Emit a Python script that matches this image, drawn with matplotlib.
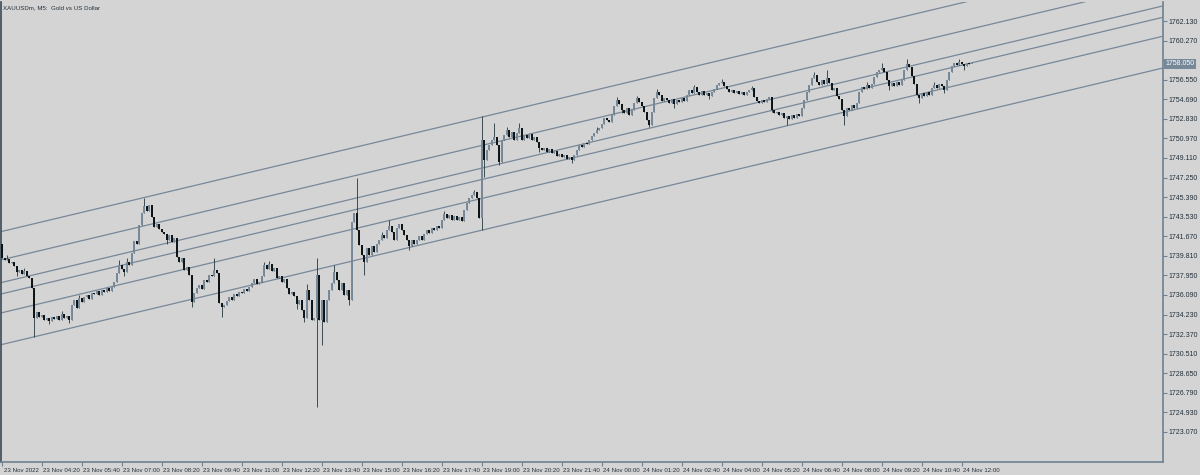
#!/usr/bin/env python3
# -*- coding: utf-8 -*-
# XAUUSDm M5 candles with a parallel channel, MT5 look

import matplotlib
matplotlib.use('Agg')
from matplotlib import pyplot as plt
from matplotlib import transforms

plt.rcParams['font.family'] = ['Liberation Sans', 'DejaVu Sans']

title = 'XAUUSDm, M5:  Gold vs US Dollar'

first_open = 1740.90

# close of every M5 bar
close = [
    1739.60, 1739.41, 1739.51, 1739.13, 1739.22, 1738.84, 1738.27, 1738.46, 1738.08, 1738.37,
    1737.89, 1737.70, 1736.75, 1733.90, 1734.47, 1733.99, 1734.18, 1733.71, 1733.90, 1733.61,
    1733.99, 1733.80, 1734.09, 1733.71, 1734.28, 1733.90, 1734.09, 1733.71, 1735.14, 1735.61,
    1734.85, 1735.80, 1735.42, 1735.90, 1736.09, 1735.71, 1736.28, 1736.18, 1736.47, 1736.09,
    1736.56, 1736.37, 1736.75, 1736.47, 1736.85, 1737.32, 1738.18, 1738.94, 1738.56, 1738.27,
    1739.22, 1738.94, 1740.08, 1741.22, 1740.94, 1742.74, 1743.88, 1744.55, 1744.07, 1744.64,
    1743.50, 1742.55, 1742.84, 1742.36, 1742.08, 1741.89, 1741.32, 1741.79, 1741.13, 1741.51,
    1739.70, 1739.22, 1739.60, 1738.46, 1738.75, 1737.99, 1735.42, 1736.28, 1736.75, 1737.04,
    1736.66, 1737.51, 1737.32, 1737.99, 1737.89, 1738.46, 1738.18, 1735.33, 1734.95, 1735.14,
    1735.52, 1735.90, 1735.61, 1736.18, 1735.99, 1736.37, 1736.28, 1736.66, 1736.47, 1736.85,
    1737.23, 1737.61, 1737.13, 1737.32, 1737.89, 1738.94, 1738.56, 1739.03, 1738.37, 1738.65,
    1737.70, 1737.89, 1737.32, 1737.61, 1736.75, 1736.18, 1736.37, 1735.99, 1735.23, 1735.61,
    1734.66, 1733.90, 1736.56, 1735.61, 1733.71, 1733.90, 1737.99, 1733.71, 1735.61, 1733.52,
    1735.61, 1736.56, 1737.23, 1738.27, 1737.51, 1736.56, 1737.23, 1736.09, 1736.56, 1735.61,
    1743.03, 1743.88, 1742.27, 1740.84, 1739.89, 1739.22, 1740.56, 1739.89, 1740.75, 1740.17,
    1740.94, 1741.32, 1741.79, 1741.51, 1742.27, 1742.65, 1742.08, 1741.32, 1742.46, 1742.84,
    1742.27, 1741.79, 1741.32, 1740.75, 1741.32, 1740.94, 1741.32, 1741.70, 1741.32, 1741.89,
    1742.27, 1741.98, 1742.46, 1742.27, 1742.65, 1742.46, 1743.22, 1743.79, 1743.41, 1743.69,
    1743.22, 1743.60, 1743.22, 1743.50, 1743.12, 1744.17, 1744.83, 1745.31, 1745.59, 1745.88,
    1745.31, 1743.41, 1750.82, 1748.92, 1749.87, 1750.35, 1750.82, 1751.11, 1750.35, 1748.73,
    1750.82, 1751.30, 1751.77, 1751.11, 1751.58, 1750.82, 1751.49, 1751.96, 1750.82, 1751.30,
    1751.01, 1751.39, 1750.82, 1751.11, 1750.63, 1750.06, 1749.87, 1750.06, 1749.68, 1749.97,
    1749.59, 1749.78, 1749.30, 1749.49, 1749.20, 1749.40, 1749.01, 1749.20, 1748.92, 1749.40,
    1749.87, 1750.35, 1750.16, 1750.54, 1750.44, 1750.82, 1751.20, 1751.49, 1751.77, 1751.96,
    1752.34, 1752.91, 1752.72, 1752.53, 1753.20, 1754.05, 1754.62, 1754.24, 1753.67, 1753.39,
    1753.86, 1753.20, 1753.67, 1754.34, 1754.81, 1754.43, 1754.05, 1753.48, 1752.72, 1752.25,
    1753.48, 1754.81, 1755.38, 1755.10, 1754.53, 1754.81, 1754.62, 1754.34, 1754.72, 1754.24,
    1754.62, 1754.43, 1754.81, 1754.53, 1755.10, 1755.57, 1755.29, 1755.86, 1755.38, 1755.10,
    1755.48, 1755.10, 1755.29, 1755.00, 1755.38, 1755.67, 1756.05, 1756.24, 1756.34, 1755.95,
    1755.67, 1755.38, 1755.57, 1755.29, 1755.48, 1755.19, 1755.38, 1755.10, 1755.38, 1755.57,
    1755.76, 1754.91, 1754.53, 1754.34, 1754.62, 1754.43, 1754.72, 1754.91, 1753.67, 1753.39,
    1753.48, 1753.20, 1753.39, 1752.91, 1753.10, 1752.82, 1753.20, 1752.91, 1753.29, 1753.10,
    1753.86, 1754.62, 1755.38, 1756.05, 1756.72, 1757.00, 1756.34, 1756.05, 1756.53, 1756.15,
    1756.72, 1756.24, 1755.57, 1755.76, 1755.00, 1754.72, 1753.67, 1753.10, 1753.86, 1753.67,
    1754.15, 1753.86, 1754.34, 1755.38, 1755.86, 1755.67, 1756.05, 1755.76, 1756.15, 1756.81,
    1757.29, 1757.48, 1757.67, 1757.29, 1756.53, 1755.95, 1756.24, 1755.95, 1756.34, 1756.05,
    1756.53, 1757.48, 1758.05, 1757.76, 1756.91, 1756.15, 1755.10, 1754.81, 1755.29, 1755.00,
    1755.38, 1755.10, 1755.76, 1756.05, 1755.76, 1756.15, 1755.95, 1755.57, 1756.53, 1757.29,
    1757.86, 1758.14, 1757.95, 1758.24, 1758.05, 1757.86, 1758.14, 1758.05, 1758.05,
]

# wicks that stick out clearly (bar index -> price)
wick_high = {
    2: 1739.90, 9: 1738.70, 24: 1734.60, 31: 1736.10, 47: 1739.40, 50: 1739.60,
    57: 1745.30, 85: 1739.60, 105: 1739.20, 107: 1739.30, 122: 1737.10, 126: 1739.60,
    133: 1738.90, 142: 1747.21, 152: 1742.10, 155: 1743.22, 177: 1744.10, 189: 1746.07,
    192: 1753.10, 197: 1752.44, 202: 1752.10, 207: 1752.44, 238: 1752.10, 246: 1754.91,
    254: 1755.00, 262: 1755.70, 277: 1756.05, 288: 1756.62, 300: 1756.00, 325: 1757.29,
    330: 1757.48, 346: 1756.30, 352: 1758.14, 362: 1758.52, 373: 1756.30, 383: 1758.50,
}
wick_low = {
    6: 1737.90, 13: 1732.10, 19: 1733.30, 27: 1733.40, 49: 1737.90, 66: 1740.90,
    76: 1734.90, 88: 1734.00, 118: 1734.80, 121: 1733.50, 126: 1725.44, 128: 1731.33,
    139: 1735.14, 145: 1737.99, 163: 1740.40, 192: 1742.27, 193: 1747.30, 199: 1748.40,
    215: 1749.70, 228: 1748.64, 248: 1753.40, 259: 1752.06, 269: 1753.86, 283: 1754.70,
    308: 1753.48, 314: 1752.25, 337: 1752.25, 355: 1755.60, 367: 1754.34, 377: 1755.30,
    385: 1757.48,
}

# channel lines: price at the left edge of the window
channel_left = [1742.11, 1739.42, 1737.26, 1736.18, 1734.38, 1731.36]
channel_slope = 0.0566  # $ per bar

price_ticks = [1762.130, 1760.270, 1758.410, 1756.550, 1754.690, 1752.830, 1750.970,
               1749.110, 1747.250, 1745.390, 1743.530, 1741.670, 1739.810, 1737.950,
               1736.090, 1734.230, 1732.370, 1730.510, 1728.650, 1726.790, 1724.930,
               1723.070]

time_labels = ['23 Nov 2022', '23 Nov 04:20', '23 Nov 05:40', '23 Nov 07:00', '23 Nov 08:20',
               '23 Nov 09:40', '23 Nov 11:00', '23 Nov 12:20', '23 Nov 13:40', '23 Nov 15:00',
               '23 Nov 16:20', '23 Nov 17:40', '23 Nov 19:00', '23 Nov 20:20', '23 Nov 21:40',
               '24 Nov 00:00', '24 Nov 01:20', '24 Nov 02:40', '24 Nov 04:00', '24 Nov 05:20',
               '24 Nov 06:40', '24 Nov 08:00', '24 Nov 09:20', '24 Nov 10:40', '24 Nov 12:00']
bars_per_label = 16

bg = '#d4d4d4'
bull = '#778899'
bear = '#0b1214'
wick_c = '#22363a'
frame = '#6f8090'
txt = '#23303a'

fig = plt.figure(figsize=(12, 4.75), dpi=100, facecolor=bg)
ax = fig.add_axes([1 / 1200, 13 / 475, 1162 / 1200, 460 / 475])
ax.set_facecolor(bg)

x0, x1 = -0.4, -0.4 + 1162 / 2.5
ax.set_xlim(x0, x1)
ax.set_ylim(1720.21, 1763.94)

# channel
for p in channel_left:
    ax.plot([x0, x1], [p, p + channel_slope * (x1 - x0)], color=bull, lw=0.9, zorder=1)

# candles
opens = [first_open] + close[:-1]
for i, (o, c) in enumerate(zip(opens, close)):
    hi = wick_high.get(i, max(o, c))
    lo = wick_low.get(i, min(o, c))
    ax.vlines(i, lo, hi, color=wick_c, lw=0.6, zorder=2)
    col = bull if c >= o else bear
    bottom, top = min(o, c), max(o, c)
    if top - bottom < 0.05:
        top = bottom + 0.05
    ax.vlines(i, bottom, top, color=col, lw=1.4, zorder=3)

# axes look
for s in ax.spines.values():
    s.set_color(frame)
    s.set_linewidth(1.2)
ax.spines['top'].set_visible(False)
ax.spines['left'].set_color('#3c4b55')
ax.yaxis.tick_right()
ax.set_yticks(price_ticks)
# the label under the price tag is hidden in MT5
last = close[-1]
ax.set_yticklabels(['' if abs(v - last) < 0.6 else '%.3f' % v for v in price_ticks])
ax.tick_params(axis='y', direction='out', length=3, width=0.8, color=frame,
               labelsize=5, labelcolor=txt, pad=1)
ax.set_xticks([k * bars_per_label for k in range(len(time_labels))])
ax.set_xticklabels(time_labels, ha='left')
ax.tick_params(axis='x', direction='out', length=3, width=0.8, color=frame,
               labelsize=4.4, labelcolor=txt, pad=1)
shift = transforms.ScaledTranslation(1.5 / 100, 0, fig.dpi_scale_trans)
for lab in ax.get_xticklabels():
    lab.set_transform(lab.get_transform() + shift)

# current price tag
ax.annotate('%.3f' % last, xy=(1, last), xycoords=('axes fraction', 'data'),
            xytext=(2, 0), textcoords='offset points', ha='left', va='center',
            fontsize=5, color='white',
            bbox=dict(boxstyle='square,pad=0.2', fc=bull, ec='none'))

fig.text(3 / 1200, 1 - 8 / 475, title, fontsize=4.4, color=txt, va='center', ha='left')

plt.savefig('out.png', dpi=100, facecolor=bg)
